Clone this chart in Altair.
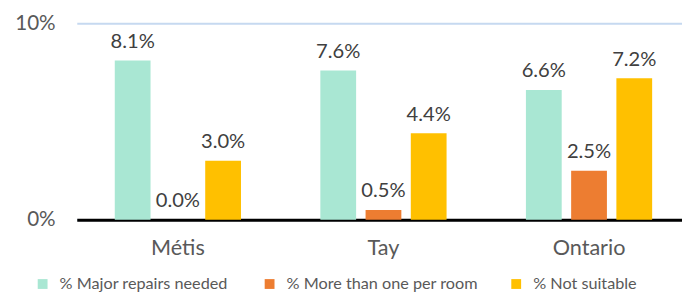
import altair as alt
import pandas as pd

FONT = "Lato"

categories = ["Métis", "Tay", "Ontario"]
series = ["%  Major repairs needed", "% More than one per room", "%  Not suitable"]
major = [8.1, 7.6, 6.6]
more = [0.0, 0.5, 2.5]
notsuit = [3.0, 4.4, 7.2]
colors = ["#A9E7D3", "#ED7D31", "#FFC000"]

rows = []
for i, c in enumerate(categories):
    for s, vals in zip(series, [major, more, notsuit]):
        rows.append({"cat": c, "series": s, "value": vals[i], "label": f"{vals[i]:.1f}%"})
df = pd.DataFrame(rows)

base = alt.Chart(df).encode(
    x=alt.X("cat:N", sort=categories,
            scale=alt.Scale(paddingInner=0.386, paddingOuter=0.165, align=0.56),
            axis=alt.Axis(title=None, labelAngle=0, labelFontSize=22, labelColor="#595959",
                          labelPadding=18, ticks=False, domainColor="#000000", domainWidth=3,
                          labelFont=FONT)),
    xOffset=alt.XOffset("series:N", sort=series, scale=alt.Scale(paddingInner=0.209, paddingOuter=0)),
    y=alt.Y("value:Q", scale=alt.Scale(domain=[0, 10], nice=False),
            axis=alt.Axis(values=[0, 10], labelExpr="datum.value + '%'", grid=True,
                          gridColor="#C6D9F0", gridWidth=2, domain=False, ticks=False,
                          labelFontSize=21, labelColor="#595959", labelPadding=22, title=None,
                          labelFont=FONT)),
)

bars = base.mark_bar().encode(
    color=alt.Color("series:N", sort=series,
                    scale=alt.Scale(domain=series, range=colors),
                    legend=alt.Legend(orient="none", legendX=-43, legendY=257, direction="horizontal",
                                      title=None, symbolType="square", symbolSize=100,
                                      labelFontSize=16.5, labelColor="#595959", columnPadding=30,
                                      symbolStrokeWidth=0, labelOffset=9, labelFont=FONT,
                                      labelLimit=400))
)

labels = base.mark_text(baseline="alphabetic", dy=-13, fontSize=20.5, color="#404040", font=FONT).encode(
    text="label:N"
)

chart = alt.layer(bars, labels).properties(
    width=616, height=200,
    padding={"left": 6, "top": 2, "right": 0, "bottom": 0},
).configure_view(stroke=None)

chart.save("out.html", embed_options={"renderer": "svg", "actions": False})
